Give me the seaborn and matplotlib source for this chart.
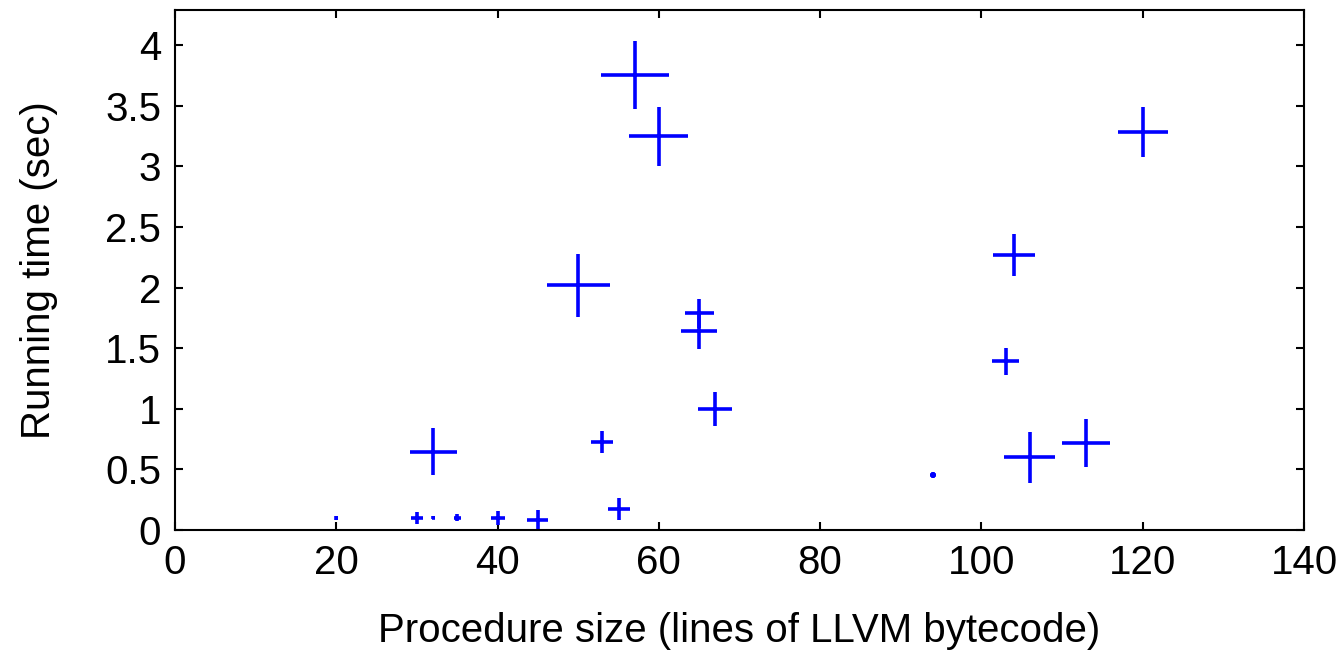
import numpy as np
import pandas as pd
import matplotlib
matplotlib.use("Agg")
import matplotlib.pyplot as plt
import seaborn as sns

# procedure size (lines of LLVM bytecode)
proc_size = [20, 30, 32, 35, 40, 45, 55, 32, 50, 53, 57, 60, 65, 65, 67,
             94, 103, 104, 106, 113, 120]
# running time (sec)
run_time = [0.10, 0.10, 0.10, 0.10, 0.10, 0.08, 0.17, 0.645, 2.02, 0.726, 3.75, 3.25,
            1.79, 1.645, 1.0, 0.457, 1.39, 2.27, 0.598, 0.716, 3.28]
# third variable, shown as the point size (gnuplot "ps variable")
point_var = [0.35, 1.2, 0.3, 0.7, 1.4, 2.1, 2.2, 4.7, 6.3, 2.2, 6.8, 5.9,
             2.9, 3.6, 3.4, 0.6, 2.7, 4.2, 5.1, 4.8, 5.0]

df = pd.DataFrame({"size": proc_size, "time": run_time, "pv": point_var})

sns.set_style("ticks")
plt.rcParams["font.family"] = ["Liberation Sans", "DejaVu Sans"]
plt.rcParams["text.color"] = "black"
plt.rcParams["axes.labelcolor"] = "black"

fig = plt.figure(figsize=(13.43, 6.53), dpi=100)
ax = fig.add_axes([0.1303, 0.1884, 0.971 - 0.1303, 0.9847 - 0.1884])

# width of the cross in pixels -> points^2 for scatter
px = 0.72
s = (df["pv"].to_numpy() * 10 * px) ** 2

sns.scatterplot(data=df, x="size", y="time", ax=ax, marker="+", color="#0000ff",
                s=s, linewidths=2.6, legend=False)

ax.set_xlim(0, 140)
ax.set_ylim(0, 4.29)
ax.set_xticks(np.arange(0, 141, 20))
ax.set_yticks(np.arange(0, 4.01, 0.5))
ax.set_yticklabels(["0", "0.5", "1", "1.5", "2", "2.5", "3", "3.5", "4"])

ax.tick_params(direction="in", length=6, width=1.5, top=True, right=True,
               labelsize=29, pad=10, colors="black")
for sp in ax.spines.values():
    sp.set_visible(True)
    sp.set_linewidth(1.5)
    sp.set_color("black")

ax.set_xlabel("Procedure size (lines of LLVM bytecode)", fontsize=29, labelpad=22)
ax.set_ylabel("Running time (sec)", fontsize=29, labelpad=34)

fig.savefig("out.png", dpi=100)
